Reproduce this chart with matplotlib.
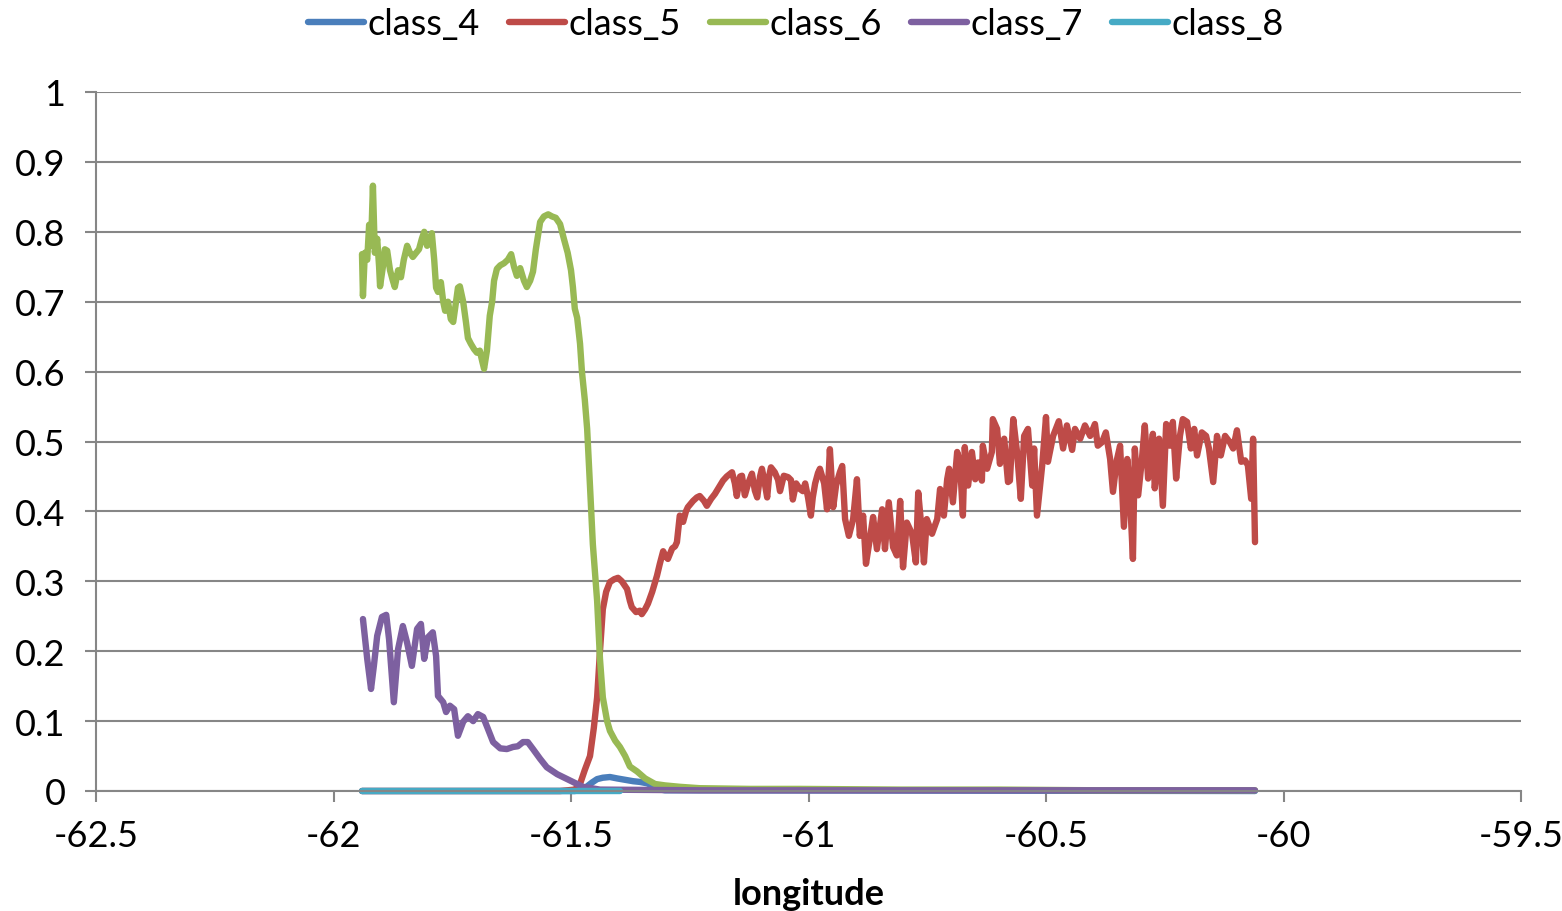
import matplotlib

matplotlib.use("Agg")
import matplotlib.pyplot as plt
from matplotlib.ticker import FuncFormatter, MultipleLocator

plt.rcParams["font.family"] = ["Lato", "DejaVu Sans"]

# class_4 (blue) - small bump just after the class_6 drop
lon_4 = [-61.940, -61.492, -61.471, -61.456, -61.445, -61.433, -61.418, -61.403,
         -61.386, -61.369, -61.355, -61.340, -61.329, -61.319, -61.302, -60.060]
val_4 = [0.0, 0.0, 0.004, 0.012, 0.017, 0.019, 0.020, 0.018,
         0.016, 0.014, 0.013, 0.011, 0.008, 0.003, 0.001, 0.0]

# class_5 (red)
lon_5 = [-61.940, -61.523, -61.492, -61.481, -61.471, -61.460, -61.452, -61.445,
         -61.439, -61.433, -61.426, -61.418, -61.409, -61.401, -61.393, -61.382,
         -61.376, -61.372, -61.363, -61.355, -61.351, -61.344, -61.338, -61.329,
         -61.319, -61.313, -61.306, -61.300, -61.296, -61.287, -61.281, -61.277,
         -61.271, -61.264, -61.258, -61.254, -61.243, -61.235, -61.229, -61.220,
         -61.214, -61.205, -61.197, -61.188, -61.180, -61.172, -61.161, -61.155,
         -61.151, -61.144, -61.140, -61.134, -61.127, -61.119, -61.113, -61.108,
         -61.102, -61.098, -61.092, -61.087, -61.083, -61.079, -61.071, -61.064,
         -61.060, -61.052, -61.043, -61.037, -61.033, -61.026, -61.018, -61.012,
         -61.007, -61.001, -60.995, -60.991, -60.986, -60.980, -60.976, -60.967,
         -60.961, -60.955, -60.948, -60.942, -60.934, -60.929, -60.923, -60.915,
         -60.906, -60.898, -60.892, -60.885, -60.879, -60.871, -60.864, -60.856,
         -60.845, -60.839, -60.831, -60.822, -60.814, -60.807, -60.801, -60.793,
         -60.782, -60.774, -60.769, -60.761, -60.757, -60.751, -60.740, -60.729,
         -60.723, -60.715, -60.708, -60.704, -60.696, -60.687, -60.681, -60.675,
         -60.671, -60.664, -60.656, -60.649, -60.643, -60.635, -60.633, -60.624,
         -60.614, -60.612, -60.603, -60.597, -60.588, -60.580, -60.576, -60.569,
         -60.561, -60.553, -60.546, -60.538, -60.529, -60.525, -60.519, -60.508,
         -60.500, -60.496, -60.485, -60.473, -60.464, -60.456, -60.445, -60.439,
         -60.428, -60.418, -60.407, -60.397, -60.391, -60.382, -60.374, -60.365,
         -60.359, -60.351, -60.344, -60.336, -60.329, -60.325, -60.317, -60.313,
         -60.306, -60.298, -60.292, -60.285, -60.275, -60.271, -60.262, -60.254,
         -60.247, -60.239, -60.233, -60.226, -60.218, -60.212, -60.203, -60.195,
         -60.188, -60.182, -60.172, -60.163, -60.157, -60.148, -60.140, -60.132,
         -60.123, -60.113, -60.106, -60.098, -60.089, -60.081, -60.075, -60.068,
         -60.064, -60.060]
val_5 = [0.0, 0.0, 0.002, 0.010, 0.030, 0.050, 0.090, 0.134,
         0.200, 0.260, 0.285, 0.299, 0.303, 0.305, 0.300, 0.289,
         0.272, 0.263, 0.256, 0.258, 0.253, 0.260, 0.268, 0.285,
         0.308, 0.325, 0.343, 0.335, 0.332, 0.347, 0.350, 0.356,
         0.394, 0.385, 0.400, 0.406, 0.415, 0.420, 0.422, 0.415,
         0.408, 0.418, 0.425, 0.435, 0.444, 0.450, 0.456, 0.440,
         0.422, 0.450, 0.451, 0.423, 0.440, 0.454, 0.430, 0.420,
         0.450, 0.461, 0.440, 0.420, 0.450, 0.463, 0.456, 0.445,
         0.429, 0.451, 0.449, 0.445, 0.417, 0.440, 0.432, 0.429,
         0.440, 0.420, 0.394, 0.420, 0.440, 0.455, 0.461, 0.440,
         0.403, 0.489, 0.406, 0.437, 0.456, 0.465, 0.389, 0.365,
         0.389, 0.446, 0.365, 0.394, 0.325, 0.360, 0.392, 0.346,
         0.403, 0.346, 0.413, 0.349, 0.337, 0.415, 0.320, 0.384,
         0.368, 0.327, 0.427, 0.368, 0.327, 0.389, 0.368, 0.389,
         0.432, 0.394, 0.446, 0.461, 0.413, 0.485, 0.470, 0.394,
         0.492, 0.437, 0.485, 0.446, 0.470, 0.444, 0.494, 0.461,
         0.485, 0.532, 0.518, 0.468, 0.504, 0.442, 0.444, 0.532,
         0.485, 0.418, 0.508, 0.518, 0.437, 0.490, 0.394, 0.466,
         0.535, 0.471, 0.508, 0.529, 0.490, 0.523, 0.488, 0.518,
         0.504, 0.523, 0.508, 0.525, 0.494, 0.499, 0.513, 0.475,
         0.428, 0.473, 0.494, 0.378, 0.475, 0.447, 0.332, 0.490,
         0.423, 0.475, 0.523, 0.447, 0.511, 0.433, 0.504, 0.408,
         0.525, 0.494, 0.528, 0.447, 0.508, 0.532, 0.528, 0.490,
         0.518, 0.480, 0.513, 0.508, 0.490, 0.442, 0.508, 0.480,
         0.508, 0.499, 0.490, 0.516, 0.471, 0.473, 0.466, 0.418,
         0.504, 0.356]

# class_6 (green)
lon_6 = [-61.940, -61.938, -61.934, -61.929, -61.925, -61.921, -61.917, -61.913,
         -61.908, -61.904, -61.902, -61.896, -61.892, -61.887, -61.881, -61.875,
         -61.871, -61.864, -61.858, -61.852, -61.845, -61.839, -61.833, -61.826,
         -61.820, -61.814, -61.809, -61.803, -61.797, -61.793, -61.788, -61.784,
         -61.780, -61.774, -61.769, -61.765, -61.759, -61.753, -61.748, -61.742,
         -61.738, -61.734, -61.727, -61.721, -61.717, -61.711, -61.704, -61.698,
         -61.692, -61.687, -61.683, -61.677, -61.671, -61.666, -61.662, -61.656,
         -61.649, -61.641, -61.633, -61.626, -61.620, -61.614, -61.607, -61.599,
         -61.593, -61.586, -61.580, -61.574, -61.565, -61.557, -61.548, -61.540,
         -61.532, -61.523, -61.515, -61.507, -61.500, -61.496, -61.492, -61.487,
         -61.481, -61.477, -61.471, -61.466, -61.460, -61.454, -61.445, -61.439,
         -61.433, -61.424, -61.418, -61.407, -61.397, -61.386, -61.376, -61.361,
         -61.344, -61.323, -61.302, -61.271, -61.229, -61.123, -61.018, -60.807,
         -60.597, -60.386, -60.060]
val_6 = [0.768, 0.708, 0.770, 0.760, 0.810, 0.780, 0.866, 0.770,
         0.790, 0.750, 0.722, 0.750, 0.775, 0.773, 0.745, 0.730,
         0.721, 0.745, 0.735, 0.760, 0.780, 0.770, 0.764, 0.770,
         0.775, 0.790, 0.800, 0.780, 0.785, 0.798, 0.760, 0.720,
         0.714, 0.728, 0.700, 0.687, 0.700, 0.675, 0.671, 0.700,
         0.720, 0.722, 0.700, 0.670, 0.648, 0.640, 0.632, 0.627,
         0.630, 0.615, 0.604, 0.630, 0.680, 0.700, 0.730, 0.747,
         0.752, 0.755, 0.760, 0.768, 0.750, 0.737, 0.748, 0.730,
         0.721, 0.730, 0.743, 0.775, 0.814, 0.822, 0.825, 0.822,
         0.820, 0.811, 0.790, 0.770, 0.745, 0.721, 0.690, 0.677,
         0.640, 0.600, 0.560, 0.518, 0.436, 0.353, 0.272, 0.189,
         0.134, 0.100, 0.086, 0.072, 0.063, 0.050, 0.035, 0.028,
         0.018, 0.010, 0.008, 0.006, 0.004, 0.003, 0.003, 0.002,
         0.002, 0.001, 0.001]

# class_7 (purple)
lon_7 = [-61.938, -61.929, -61.921, -61.915, -61.908, -61.898, -61.889, -61.883,
         -61.873, -61.864, -61.854, -61.845, -61.835, -61.824, -61.816, -61.809,
         -61.801, -61.791, -61.784, -61.780, -61.769, -61.763, -61.755, -61.746,
         -61.738, -61.727, -61.717, -61.706, -61.696, -61.685, -61.675, -61.664,
         -61.649, -61.635, -61.622, -61.612, -61.601, -61.591, -61.580, -61.565,
         -61.551, -61.529, -61.508, -61.487, -61.475, -61.439, -61.229, -60.060]
val_7 = [0.246, 0.189, 0.146, 0.179, 0.222, 0.249, 0.252, 0.217,
         0.127, 0.203, 0.236, 0.212, 0.179, 0.232, 0.239, 0.189,
         0.220, 0.227, 0.193, 0.136, 0.127, 0.113, 0.122, 0.117,
         0.079, 0.099, 0.107, 0.100, 0.110, 0.106, 0.089, 0.070,
         0.061, 0.060, 0.063, 0.064, 0.070, 0.070, 0.060, 0.046,
         0.034, 0.024, 0.017, 0.010, 0.006, 0.002, 0.001, 0.001]

# class_8 (cyan) - flat at zero, shorter run
lon_8 = [-61.940, -61.700, -61.500, -61.397]
val_8 = [0.0, 0.0, 0.0, 0.0]

series = [
    ("class_4", lon_4, val_4, "#4A7EBB"),
    ("class_5", lon_5, val_5, "#BE4B48"),
    ("class_6", lon_6, val_6, "#98B954"),
    ("class_7", lon_7, val_7, "#7D60A0"),
    ("class_8", lon_8, val_8, "#46AAC5"),
]

fig = plt.figure(figsize=(15.62, 9.12), dpi=100)
ax = fig.add_axes([96 / 1562, 1 - 792 / 912, (1521 - 96) / 1562, (792 - 93) / 912])

for name, xs, ys, color in series:
    ax.plot(xs, ys, color=color, linewidth=4.6, label=name,
            solid_joinstyle="round", solid_capstyle="round", clip_on=False)

ax.set_xlim(-62.5, -59.5)
ax.set_ylim(0, 1)
ax.xaxis.set_major_locator(MultipleLocator(0.5))
ax.yaxis.set_major_locator(MultipleLocator(0.1))
ax.yaxis.set_major_formatter(FuncFormatter(lambda v, p: f"{v:.1f}".rstrip("0").rstrip(".") if v else "0"))
ax.xaxis.set_major_formatter(FuncFormatter(lambda v, p: f"{v:g}"))
ax.grid(axis="y", color="#868686", linewidth=1.5)
ax.set_axisbelow(True)
for side in ("top", "right"):
    ax.spines[side].set_visible(False)
for side in ("left", "bottom"):
    ax.spines[side].set_color("#868686")
    ax.spines[side].set_linewidth(1.5)
ax.tick_params(axis="both", colors="#868686", labelcolor="black", labelsize=26,
               length=8, width=1.5, direction="out")
ax.tick_params(axis="x", pad=12)
ax.tick_params(axis="y", pad=14)
ax.set_xlabel("longitude", fontsize=26, fontweight="bold", labelpad=18)

leg = fig.legend(loc="center", bbox_to_anchor=(796 / 1562, 1 - 25 / 912), ncol=5, frameon=False,
                 fontsize=26, handlelength=1.55, handletextpad=0.1, columnspacing=0.8)
for line in leg.get_lines():
    line.set_linewidth(4.6)

fig.savefig("out.png", dpi=100, facecolor="white")
